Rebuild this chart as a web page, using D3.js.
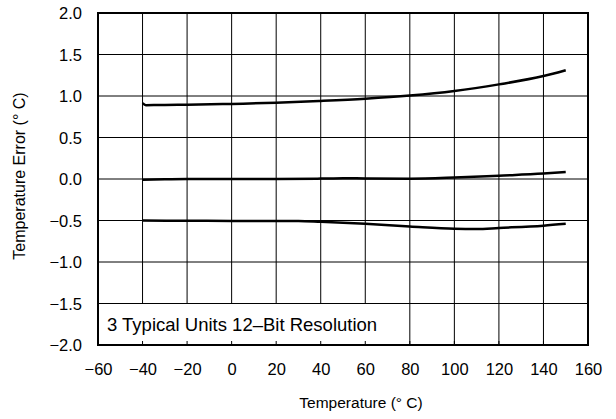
<!DOCTYPE html>
<html>
<head>
<meta charset="utf-8">
<script src="https://cdn.jsdelivr.net/npm/d3@7"></script>
<style>
html,body{margin:0;padding:0;background:#fff;}
svg{display:block;}
text{font-family:"Liberation Sans",Arial,Helvetica,sans-serif;fill:#000;}
</style>
</head>
<body>
<svg id="chart" width="616" height="419"></svg>
<script>
const xTicks = [-60,-40,-20,0,20,40,60,80,100,120,140,160];
const yTicks = [-2.0,-1.5,-1.0,-0.5,0.0,0.5,1.0,1.5,2.0];

const unit1Temp = [-40,-38.5,-30,-20,0,20,40,60,80,100,120,140,150];
const unit1Err  = [0.915,0.89,0.892,0.895,0.905,0.918,0.94,0.967,1.005,1.06,1.14,1.24,1.31];

const unit2Temp = [-40,-30,-20,0,20,40,50,60,80,100,120,140,150];
const unit2Err  = [-0.01,-0.003,0.0,0.0,0.0,0.005,0.01,0.006,0.003,0.017,0.04,0.065,0.085];

const unit3Temp = [-40,-20,0,20,30,40,60,80,100,110,120,140,150];
const unit3Err  = [-0.50,-0.503,-0.505,-0.505,-0.505,-0.515,-0.54,-0.572,-0.60,-0.603,-0.59,-0.562,-0.54];

const legendText = "3 Typical Units 12\u2013Bit Resolution";
const xLabel = "Temperature (\u00B0 C)";
const yLabel = "Temperature Error (\u00B0 C)";

const svg = d3.select("#chart");
const L = 98, R = 588, T = 13, B = 345;
const x = d3.scaleLinear().domain([-60,160]).range([L,R]);
const y = d3.scaleLinear().domain([-2,2]).range([B,T]);
const fmtY = v => (v < 0 ? "\u2212" : "") + Math.abs(v).toFixed(1);
const fmtX = v => (v < 0 ? "\u2212" : "") + Math.abs(v);

// grid
const grid = svg.append("g");
grid.selectAll("line.v").data(xTicks.slice(1,-1)).join("line")
  .attr("x1", d => x(d)).attr("x2", d => x(d)).attr("y1", T).attr("y2", B)
  .attr("stroke", "#000").attr("stroke-width", 1);
grid.selectAll("line.h").data(yTicks.slice(1,-1)).join("line")
  .attr("x1", L).attr("x2", R).attr("y1", d => y(d)).attr("y2", d => y(d))
  .attr("stroke", "#000").attr("stroke-width", 1);

// legend box (white, covers grid)
svg.append("rect").attr("x", L).attr("y", y(-1.5) + 0.5)
  .attr("width", x(70) - L).attr("height", B - y(-1.5) - 0.5).attr("fill", "#fff");
// inward ticks at bottom
svg.append("g").selectAll("line").data(xTicks.slice(1,-1)).join("line")
  .attr("x1", d => x(d)).attr("x2", d => x(d)).attr("y1", B - 4).attr("y2", B)
  .attr("stroke", "#000").attr("stroke-width", 1);
svg.append("text").attr("x", 107).attr("y", 331).attr("font-size", 18.5).text(legendText);

// curves
const line = d3.line().x(d => x(d[0])).y(d => y(d[1])).curve(d3.curveMonotoneX);
[[unit1Temp,unit1Err],[unit2Temp,unit2Err],[unit3Temp,unit3Err]].forEach(([t,e]) => {
  svg.append("path").datum(t.map((v,i) => [v, e[i]]))
    .attr("d", line).attr("fill", "none").attr("stroke", "#000")
    .attr("stroke-width", 2.5).attr("stroke-linecap", "butt");
});

// frame
svg.append("rect").attr("x", L).attr("y", T).attr("width", R - L).attr("height", B - T)
  .attr("fill", "none").attr("stroke", "#000").attr("stroke-width", 2);

// axes
const xAxis = d3.axisBottom(x).tickValues(xTicks).tickSize(0).tickPadding(0).tickFormat(fmtX);
const gx = svg.append("g").attr("transform", `translate(0,${B})`).call(xAxis);
gx.select(".domain").remove();
gx.selectAll("text").attr("dy", null).attr("y", 30).attr("font-size", 16.5)
  .style("font-family", '"Liberation Sans",Arial,sans-serif');

const yAxis = d3.axisLeft(y).tickValues(yTicks).tickSize(0).tickPadding(0).tickFormat(fmtY);
const gy = svg.append("g").attr("transform", `translate(${L - 16},0)`).call(yAxis);
gy.select(".domain").remove();
gy.selectAll("text").attr("dy", "0.36em").attr("font-size", 16.5)
  .style("font-family", '"Liberation Sans",Arial,sans-serif');

svg.append("text").attr("x", 361).attr("y", 408).attr("text-anchor", "middle")
  .attr("font-size", 15.5).text(xLabel);
svg.append("text").attr("transform", `translate(25,176) rotate(-90)`)
  .attr("text-anchor", "middle").attr("font-size", 16).text(yLabel);
</script>
</body>
</html>
